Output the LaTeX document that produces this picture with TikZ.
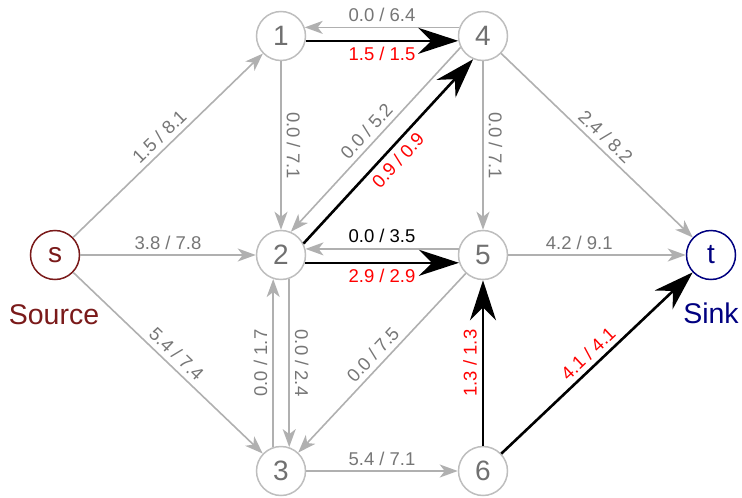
\documentclass[tikz,border=0pt]{standalone}
\usepackage{fontspec}
\setmainfont{Liberation Sans}
\usetikzlibrary{arrows.meta,calc}
\definecolor{edgegray}{HTML}{B0B0B0}
\definecolor{labgray}{HTML}{767676}
\definecolor{nodegray}{HTML}{BEBEBE}
\definecolor{numgray}{HTML}{707070}
\definecolor{srcred}{HTML}{7A1A1A}
\definecolor{sinkblue}{HTML}{000080}
\begin{document}
\begin{tikzpicture}[x=1pt,y=-1pt,
  vert/.style={circle, draw=nodegray, line width=1.5pt, minimum size=49pt, inner sep=0pt,
    font=\fontsize{28}{28}\selectfont, text=numgray, fill=white},
  res/.style={draw=edgegray, line width=1.6pt, -{Stealth[length=18pt,width=13pt,inset=5pt]}},
  flow/.style={draw=black, line width=2.6pt, -{Stealth[length=40pt,width=26pt,inset=13pt]}},
  lab/.style={font=\fontsize{18.5}{18.5}\selectfont, text=labgray, inner sep=5pt},
  rlab/.style={lab, text=red},
  vdown/.style={midway, rotate=-90, anchor=south},
  vup/.style={midway, rotate=90, anchor=south},
  biglab/.style={font=\fontsize{28.5}{28.5}\selectfont, anchor=base, inner sep=0pt},
]
\useasboundingbox (0,0) rectangle (742,498);

\node[vert, draw=srcred, text=srcred] (s) at (55,255) {s};
\node[vert] (n1) at (281,36) {1};
\node[vert] (n4) at (483,36) {4};
\node[vert] (n2) at (281,255) {2};
\node[vert] (n5) at (483,255) {5};
\node[vert] (n3) at (281,471) {3};
\node[vert] (n6) at (483,471) {6};
\node[vert, draw=sinkblue, text=sinkblue] (t) at (711,255) {t};

\node[biglab, text=srcred] (srclab) at (54,324) {Source};
\node[biglab, text=sinkblue] (sinklab) at (711,323) {Sink};

% source edges
\draw[res] (s) -- node[lab, sloped, above] {1.5 / 8.1} (n1);
\draw[res] (s) -- node[lab, above] {3.8 / 7.8} (n2);
\draw[res] (s) -- node[lab, sloped, above] {5.4 / 7.4} (n3);

% 1 <-> 4
\draw[res] (n4.160) -- node[lab, above] {0.0 / 6.4} (n1.20);
\draw[flow] (n1.-11) -- node[rlab, below] {1.5 / 1.5} (n4.191);

% 1 -> 2, 4 -> 5
\draw[res] (n1) -- node[lab, vdown] {0.0 / 7.1} (n2);
\draw[res] (n4) -- node[lab, vdown] {0.0 / 7.1} (n5);

% 2 <-> 4
\draw[res] (n4.207.6) -- node[lab, sloped, above] {0.0 / 5.2} (n2.67);
\draw[flow] (n2.27.6) -- node[rlab, sloped, below] {0.9 / 0.9} (n4.247);

% 2 <-> 5
\draw[res] (n5.166) -- node[lab, above, text=black] {0.0 / 3.5} (n2.14);
\draw[flow] (n2.-18.5) -- node[rlab, below] {2.9 / 2.9} (n5.198.5);

% 2 <-> 3
\draw[res] (n2.-71.5) -- node[lab, vdown] {0.0 / 2.4} (n3.71.5);
\draw[res] (n3.108.5) -- node[lab, vup] {0.0 / 1.7} (n2.-108.5);

% others
\draw[res] (n4) -- node[lab, sloped, above] {2.4 / 8.2} (t);
\draw[res] (n5) -- node[lab, above, pos=0.4] {4.2 / 9.1} (t);
\draw[res] (n5) -- node[lab, sloped, above] {0.0 / 7.5} (n3);
\draw[res] (n3) -- node[lab, above] {5.4 / 7.1} (n6);
\draw[flow] (n6) -- node[rlab, vup] {1.3 / 1.3} (n5);
\draw[flow] (n6) -- node[rlab, sloped, above] {4.1 / 4.1} (t);
\end{tikzpicture}
\end{document}
